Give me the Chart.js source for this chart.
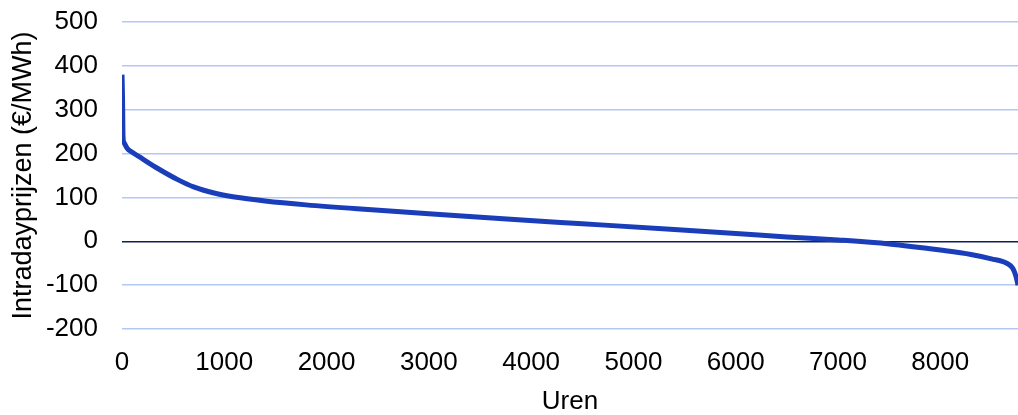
<!DOCTYPE html>
<html>
<head>
<meta charset="utf-8">
<script src="https://cdn.jsdelivr.net/npm/chart.js@4"></script>
<style>
  html, body { margin: 0; padding: 0; background: #fff; }
  #wrap { width: 1018px; height: 415px; }
</style>
</head>
<body>
<div id="wrap"><canvas id="durationChart"></canvas></div>
<script>
// Price duration curve
const hours = [0, 5, 10, 20, 50, 100, 200, 350, 550, 700, 900, 1100, 1400, 1800, 2300,
    3000, 3800, 4500, 5400, 6000, 6500, 7000, 7500, 8000, 8300, 8500, 8650, 8710, 8740, 8760];
const prices = [380, 330, 240, 225, 212, 203, 188, 166, 140, 124, 110, 101, 92, 83, 74,
    63, 50, 40, 27, 18, 10, 3, -6, -20, -30, -40, -50, -62, -80, -100];
const xTicks = [0, 1000, 2000, 3000, 4000, 5000, 6000, 7000, 8000];
const yTicks = [-200, -100, 0, 100, 200, 300, 400, 500];

const fontFamily = 'Arial, "Liberation Sans", sans-serif';

document.addEventListener('DOMContentLoaded', function() {
    const ctx = document.getElementById('durationChart').getContext('2d');

    new Chart(ctx, {
        type: 'line',
        data: {
            datasets: [{
                label: 'Intradayprijzen',
                data: hours.map((h, i) => ({ x: h, y: prices[i] })),
                borderColor: '#1a3eba',
                borderWidth: 5,
                pointRadius: 0,
                cubicInterpolationMode: 'monotone',
                fill: false
            }]
        },
        options: {
            responsive: true,
            maintainAspectRatio: false,
            animation: false,
            layout: { padding: { top: 22, left: 0, right: 0, bottom: 0 } },
            plugins: {
                legend: { display: false },
                tooltip: { enabled: false }
            },
            scales: {
                x: {
                    type: 'linear',
                    min: 0,
                    max: 8760,
                    afterBuildTicks: function(scale) {
                        scale.ticks = xTicks.map(v => ({ value: v }));
                    },
                    afterFit: function(scale) { scale.height = 86; },
                    grid: { display: false },
                    border: { display: false },
                    ticks: {
                        color: '#000',
                        padding: 10,
                        maxRotation: 0,
                        callback: v => String(v),
                        font: { family: fontFamily, size: 26 }
                    },
                    title: {
                        display: true,
                        text: 'Uren',
                        color: '#000',
                        padding: { top: 0, bottom: 0 },
                        font: { family: fontFamily, size: 26, lineHeight: 1.0 }
                    }
                },
                y: {
                    min: -200,
                    max: 500,
                    afterBuildTicks: function(scale) {
                        scale.ticks = yTicks.map(v => ({ value: v }));
                    },
                    afterFit: function(scale) {
                        scale.width = 122;
                        scale.paddingTop = 0;
                        scale.paddingBottom = 0;
                    },
                    border: { display: false },
                    grid: {
                        drawTicks: false,
                        color: c => c.tick && c.tick.value === 0 ? '#0d1f5c' : '#b4c8f7',
                        lineWidth: 1.5
                    },
                    ticks: {
                        color: '#000',
                        padding: 24,
                        callback: v => String(v),
                        font: { family: fontFamily, size: 26 }
                    },
                    title: {
                        display: true,
                        text: 'Intradayprijzen (€/MWh)',
                        color: '#000',
                        padding: { top: 7, bottom: 0 },
                        font: { family: fontFamily, size: 27 }
                    }
                }
            }
        }
    });
});
</script>
</body>
</html>
